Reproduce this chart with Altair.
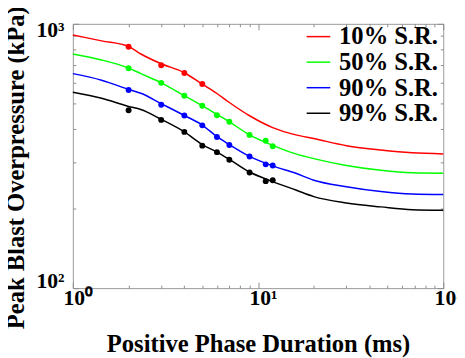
import altair as alt
import pandas as pd

series = ["10% S.R.", "50% S.R.", "90% S.R.", "99% S.R."]
colors = ["#ff0000", "#00ff00", "#0000ff", "#000000"]

# fitted curves
curve_x = [1, 1.43, 2, 2.33, 3, 4, 5, 6, 7, 9, 12, 16, 20, 30, 46, 68, 100]
curve_10 = [908, 862, 821, 769, 706, 653, 591, 545, 504, 449, 405, 380, 368, 346, 333, 325, 322]
curve_50 = [769, 730, 680, 648, 598, 535, 490, 454, 426, 380, 347, 322, 309, 291, 279, 273, 272]
curve_90 = [648, 612, 565, 546, 499, 450, 414, 374, 349, 315, 290, 272, 256, 242, 232, 227, 226]
curve_99 = [551, 523, 487, 474, 435, 390, 349, 327, 307, 275, 253, 235, 222, 210, 203, 198, 197]

# data points
pts_x = [2, 3, 4, 5, 6, 7, 9, 11, 12]
pts_10 = [819, 697, 652, 592]
pts_50 = [679, 598, 535, 490, 451, 426, 380, 361, 344]
pts_90 = [562, 494, 450, 413, 373, 348, 315, 294, 291]
pts_99 = [471, 433, 390, 346, 327, 306, 274, 254, 256]

major_x = [1, 10, 100]
minor_x = [2, 3, 4, 5, 6, 7, 8, 9, 20, 30, 40, 50, 60, 70, 80, 90]
major_y = [100, 1000]
minor_y = [200, 300, 400, 500, 600, 700, 800, 900]

curves = [curve_10, curve_50, curve_90, curve_99]
pts = [pts_10, pts_50, pts_90, pts_99]

line_rows = []
for s, ys in zip(series, curves):
    for x, y in zip(curve_x, ys):
        line_rows.append({"x": x, "y": y, "series": s})
line_df = pd.DataFrame(line_rows)

pt_rows = []
for s, c, ys in zip(series, colors, pts):
    for x, y in zip(pts_x, ys):
        pt_rows.append({"x": x, "y": y, "series": s, "color": c})
pt_df = pd.DataFrame(pt_rows)

W, H = 377, 269
FONT = "Times New Roman, Liberation Serif, Times, serif"
GRAY = "#8c8c8c"
xscale = alt.Scale(type="log", domain=[1, 100], nice=False)
yscale = alt.Scale(type="log", domain=[100, 1000], nice=False)
lab_expr = "'10' + ['\u2070','\u00b9','\u00b2','\u00b3'][round(log(datum.value)/LN10)]"

lines = alt.Chart(line_df).mark_line(interpolate="monotone", strokeWidth=1.5).encode(
    x=alt.X("x:Q", scale=xscale, axis=alt.Axis(
        values=major_x, labelExpr=lab_expr, ticks=False, domain=False, grid=False,
        labelFont=FONT, labelFontSize=22, labelFontWeight="bold", labelColor="black",
        labelPadding=0, labelFlush=False, labelOffset=5,
        title="Positive Phase Duration (ms)", titleFont=FONT, titleFontSize=25,
        titleFontWeight="bold", titleColor="black", titlePadding=24)),
    y=alt.Y("y:Q", scale=yscale, axis=alt.Axis(
        values=major_y, labelExpr=lab_expr, ticks=False, domain=False, grid=False,
        labelFont=FONT, labelFontSize=22, labelFontWeight="bold", labelColor="black",
        labelPadding=9, labelFlush=True, labelFlushOffset=4,
        title="Peak Blast Overpressure (kPa)", titleFont=FONT, titleFontSize=25,
        titleFontWeight="bold", titleColor="black", titlePadding=8, titleY=146)),
    color=alt.Color("series:N", scale=alt.Scale(domain=series, range=colors),
                    legend=alt.Legend(title=None, orient="none", legendX=237, legendY=0,
                                      symbolType="stroke", symbolSize=576, symbolStrokeWidth=1.5,
                                      labelFont=FONT, labelFontSize=25, labelFontWeight="bold",
                                      labelColor="black", labelOffset=8, rowPadding=0, padding=0,
                                      labelLimit=300)),
)

points = alt.Chart(pt_df).mark_circle(size=36, opacity=1).encode(
    x=alt.X("x:Q", scale=xscale, axis=None),
    y=alt.Y("y:Q", scale=yscale, axis=None),
    color=alt.Color("color:N", scale=None),
)


def tick_layer(xorient, yorient, xvals, yvals, size):
    return alt.Chart(pt_df).mark_point(opacity=0).encode(
        x=alt.X("x:Q", scale=xscale, axis=alt.Axis(
            orient=xorient, offset=-H, values=xvals, tickSize=size, tickColor=GRAY,
            labels=False, domain=False, grid=False, title=None)),
        y=alt.Y("y:Q", scale=yscale, axis=alt.Axis(
            orient=yorient, offset=-W, values=yvals, tickSize=size, tickColor=GRAY,
            labels=False, domain=False, grid=False, title=None)),
    )


chart = alt.layer(
    lines,
    points,
    tick_layer("top", "right", major_x, major_y, 6),
    tick_layer("top", "right", minor_x, minor_y, 3),
    tick_layer("bottom", "left", major_x, major_y, 6),
    tick_layer("bottom", "left", minor_x, minor_y, 3),
).resolve_axis(x="independent", y="independent").properties(
    width=W, height=H,
    autosize=alt.AutoSizeParams(type="none"),
    padding={"left": 66, "top": 13, "right": 14, "bottom": 68},
    background="white",
).configure_view(stroke="#999999", strokeWidth=1)

chart.save("out.html", embed_options={"renderer": "svg", "actions": False})
